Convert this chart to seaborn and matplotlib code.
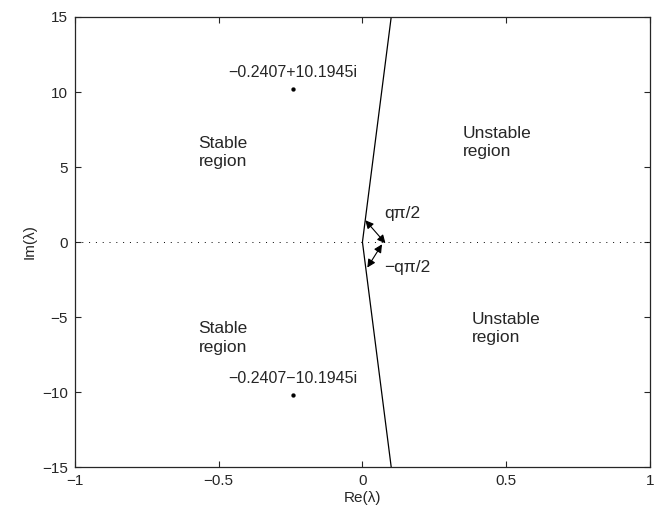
import numpy as np
import pandas as pd
import matplotlib
matplotlib.use('Agg')
import matplotlib.pyplot as plt
import seaborn as sns

# ── Data ─────────────────────────────────────────────────────
# stability boundary: two rays from the origin
boundary_re = [0.1, 0.0, 0.1]
boundary_im = [15.0, 0.0, -15.0]

# eigenvalues
eig_re = [-0.2407, -0.2407]
eig_im = [10.1945, -10.1945]
eig_labels = ['\u22120.2407+10.1945i', '\u22120.2407\u221210.1945i']

x_ticks = [-1, -0.5, 0, 0.5, 1]
y_ticks = [-15, -10, -5, 0, 5, 10, 15]

sns.set_style('ticks')
plt.rcParams['font.family'] = ['Liberation Sans', 'DejaVu Sans']
plt.rcParams['axes.unicode_minus'] = True

fig = plt.figure(figsize=(6.62, 5.15), dpi=100)
ax = fig.add_axes([0.113, 0.093, 0.869, 0.874])

# zero line
ax.axhline(0, color='black', linestyle=(0, (1, 6)), linewidth=0.7)

bdf = pd.DataFrame({'re': boundary_re, 'im': boundary_im})
sns.lineplot(data=bdf, x='re', y='im', sort=False, estimator=None,
             color='black', linewidth=0.9, ax=ax)

edf = pd.DataFrame({'re': eig_re, 'im': eig_im})
sns.scatterplot(data=edf, x='re', y='im', color='black', s=8,
                edgecolor='black', ax=ax)

for x, y, lab in zip(eig_re, eig_im, eig_labels):
    ax.text(x, y + 1.1, lab, ha='center', va='center', fontsize=11.5)

# angle arrows
arrow_kw = dict(arrowstyle='<|-|>', color='black', lw=0.8,
                mutation_scale=12, shrinkA=0, shrinkB=0)
ax.annotate('', xy=(0.010, 1.45), xytext=(0.080, -0.08), arrowprops=arrow_kw)
ax.annotate('', xy=(0.017, -1.70), xytext=(0.068, -0.15), arrowprops=arrow_kw)
ax.text(0.077, 1.9, 'q\u03c0/2', ha='left', va='center', fontsize=12.5)
ax.text(0.077, -1.7, '\u2212q\u03c0/2', ha='left', va='center', fontsize=12.5)

# region labels
reg_kw = dict(ha='left', va='center', fontsize=12.5, linespacing=1.3)
ax.text(-0.57, 5.97, 'Stable\nregion', **reg_kw)
ax.text(0.348, 6.63, 'Unstable\nregion', **reg_kw)
ax.text(-0.57, -6.4, 'Stable\nregion', **reg_kw)
ax.text(0.38, -5.77, 'Unstable\nregion', **reg_kw)

ax.set_xlim(-1, 1)
ax.set_ylim(-15, 15)
ax.set_xticks(x_ticks)
ax.set_xticklabels(['\u22121', '\u22120.5', '0', '0.5', '1'])
ax.set_yticks(y_ticks)
ax.set_yticklabels(['\u221215', '\u221210', '\u22125', '0', '5', '10', '15'])
ax.tick_params(direction='in', top=True, right=True, length=4, width=0.8,
               labelsize=11, pad=5)
for sp in ax.spines.values():
    sp.set_visible(True)
    sp.set_linewidth(0.9)
ax.set_xlabel('Re(\u03bb)', fontsize=11, labelpad=2)
ax.set_ylabel('Im(\u03bb)', fontsize=11, labelpad=4)

plt.savefig('out.png', dpi=100)
